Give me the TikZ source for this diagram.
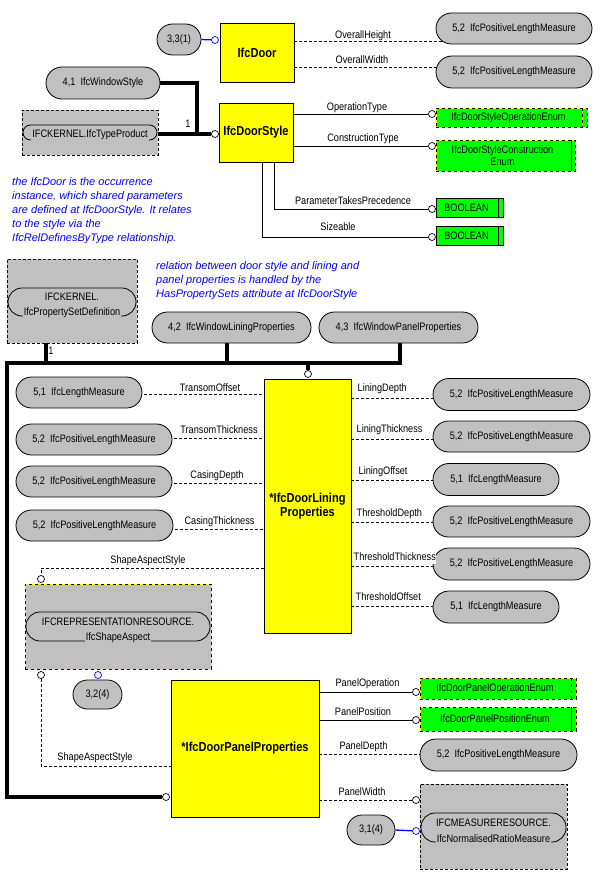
\documentclass[tikz,border=0pt]{standalone}
\usepackage{fontspec}
\setmainfont{Liberation Sans}
\newfontfamily\narrowfam[FakeStretch=0.85]{Liberation Sans}
\pgfdeclarelayer{paper}
\pgfdeclarelayer{wires}
\pgfsetlayers{paper,wires,main}
\definecolor{ifcgray}{RGB}{192,192,192}
\definecolor{ifcyellow}{RGB}{255,255,0}
\definecolor{ifcgreen}{RGB}{0,255,0}
\definecolor{ifcblue}{RGB}{0,0,255}
\newcommand\lblfont{\narrowfam\fontsize{10.8}{12.5}\selectfont}
\newcommand\boxfont{\narrowfam\fontsize{13}{14}\selectfont\bfseries}
\newcommand\notefont{\fontsize{11}{14}\selectfont\itshape\color{ifcblue}}
\begin{document}
\begin{tikzpicture}[x=1pt,y=-1pt,
  lab/.style={font=\lblfont, inner sep=0.5pt, text height=8pt, text depth=2.5pt},
  ybox/.style={draw, line width=0.8pt, fill=ifcyellow, font=\boxfont, align=center, inner sep=0pt},
  meas/.style={draw, line width=0.8pt, fill=ifcgray, rounded corners=15.5pt, font=\lblfont, inner sep=0pt, minimum height=31pt},
  gbox/.style={draw, fill=ifcgray, dash pattern=on 3pt off 2pt, line width=0.8pt, inner sep=0pt},
  ybbox/.style={fill=ifcgray, draw=ifcyellow, line width=0.8pt, inner sep=0pt, postaction={draw=black, dash pattern=on 3pt off 3pt, line width=0.8pt}},
  ovl/.style={draw, line width=0.8pt, inner sep=0pt, rounded corners=14pt},
  ovtext/.style={font=\lblfont, inner sep=1pt, fill=ifcgray},
  enumbox/.style={fill=ifcgreen, draw=ifcyellow, line width=0.8pt, inner sep=0pt, font=\lblfont, align=center, postaction={draw=black, dash pattern=on 3pt off 3pt}},
  boolbox/.style={fill=ifcgreen, draw, line width=0.8pt, inner sep=0pt, font=\lblfont},
  oc/.style={circle, draw, fill=white, minimum size=7pt, inner sep=0pt, line width=0.7pt},
  boc/.style={oc, draw=ifcblue},
  conn/.style={line width=0.8pt},
  dconn/.style={line width=0.8pt, dash pattern=on 3pt off 2pt},
  bconn/.style={line width=1.3pt, draw=ifcblue},
  bus/.style={line width=3.8pt},
  note/.style={font=\notefont, inner sep=0pt, anchor=base west},
  ysep/.style={draw=ifcyellow, line width=0.8pt},
  ksep/.style={draw=black, line width=0.8pt, dash pattern=on 3pt off 3pt},
]
\begin{pgfonlayer}{paper}
\fill[white] (0,0) rectangle (600,888);
\end{pgfonlayer}
\useasboundingbox (0,0) rectangle (600,888);

% ---------- top part ----------
\node[ybox, minimum width=74pt, minimum height=59pt] (door) at (257,52.5) {IfcDoor};
\node[meas, minimum width=44pt] (c331) at (179,39.5) {3,3(1)};
\node[boc] (o331) at (215,40) {};
\node[ybox, minimum width=74pt, minimum height=59pt] (ds) at (256,132.5) {IfcDoorStyle};
\node[meas, minimum width=114pt, minimum height=32pt, rounded corners=16pt] (wstyle) at (103,83) {4,1\ \ IfcWindowStyle};
\node[gbox, minimum width=136pt, minimum height=45pt] (tp) at (90,132.5) {};
\node[ovl, minimum width=134pt, minimum height=15pt, rounded corners=7.5pt] (tpin) at (90,132.5) {};
\node[ovtext] (tptxt) at (90,135) {IFCKERNEL.IfcTypeProduct};
\node[oc] (ods) at (215,134) {};
\coordinate (j1) at (197,134);
\node[lab] (one1) at (188,125) {1};

\node[meas, minimum width=156pt] (h1) at (514,28.5) {5,2\ \ IfcPositiveLengthMeasure};
\node[meas, minimum width=156pt, minimum height=32pt, rounded corners=16pt] (h2) at (514,72) {5,2\ \ IfcPositiveLengthMeasure};
\node[lab] (lOH) at (363,36) {OverallHeight};
\node[lab] (lOW) at (362,61) {OverallWidth};

\node[enumbox, minimum width=151pt, minimum height=19pt] (opt) at (511.5,117.5) {IfcDoorStyleOperationEnum\hspace*{6pt}};
\draw[ysep] ([xshift=-5pt]opt.north east) -- ([xshift=-5pt]opt.south east);
\draw[ksep] ([xshift=-5pt]opt.north east) -- ([xshift=-5pt]opt.south east);
\node[enumbox, minimum width=139pt, minimum height=31pt] (cst) at (505.5,155.5) {IfcDoorStyleConstruction\hspace*{6pt}\\Enum\hspace*{6pt}};
\draw[conn] ([xshift=-4pt]cst.north east) -- ([xshift=-4pt]cst.south east);
\node[oc] (oOT) at (432,114) {};
\node[oc] (oCT) at (432,146) {};
\node[lab] (lOT) at (357,108) {OperationType};
\node[lab] (lCT) at (363,139) {ConstructionType};

\node[boolbox, minimum width=67pt, minimum height=19pt] (b1) at (469.5,207.5) {BOOLEAN\hspace*{6pt}};
\draw[conn] ([xshift=-5pt]b1.north east) -- ([xshift=-5pt]b1.south east);
\node[boolbox, minimum width=67pt, minimum height=19pt] (b2) at (469.5,235.5) {BOOLEAN\hspace*{6pt}};
\draw[conn] ([xshift=-5pt]b2.north east) -- ([xshift=-5pt]b2.south east);
\node[oc] (oB1) at (432,209) {};
\node[oc] (oB2) at (432,237) {};
\node[lab] (lPTP) at (353,202) {ParameterTakesPrecedence};
\node[lab] (lSz) at (338,228) {Sizeable};

% ---------- notes ----------
\node[note] (n1a) at (12,185) {the IfcDoor is the occurrence};
\node[note] (n1b) at (12,199) {instance, which shared parameters};
\node[note] (n1c) at (12,213) {are defined at IfcDoorStyle. It relates};
\node[note] (n1d) at (12,227) {to the style via the};
\node[note] (n1e) at (12,241) {IfcRelDefinesByType relationship.};
\node[note] (n2a) at (156,269) {relation between door style and lining and};
\node[note] (n2b) at (156,283) {panel properties is handled by the};
\node[note] (n2c) at (156,297) {HasPropertySets attribute at IfcDoorStyle};

% ---------- property set level ----------
\node[gbox, minimum width=130pt, minimum height=84pt] (ps) at (72,301) {};
\node[ovl, minimum width=128pt, minimum height=28pt] (psin) at (72,302) {};
\node[ovtext] (pst1) at (72,297) {IFCKERNEL.};
\node[ovtext] (pst2) at (72,313) {IfcPropertySetDefinition};
\node[lab] (one2) at (51,352) {1};
\node[meas, minimum width=159pt] (wlin) at (231.5,327.5) {4,2\ \ IfcWindowLiningProperties};
\node[meas, minimum width=159pt] (wpan) at (398.5,327.5) {4,3\ \ IfcWindowPanelProperties};
\coordinate (busL) at (7,363);
\coordinate (busR) at (400,363);
\node[oc] (oLin) at (308,374) {};

% ---------- lining properties ----------
\node[ybox, minimum width=87pt, minimum height=254pt] (lin) at (307.5,506) {*IfcDoorLining\\Properties};
\node[meas, minimum width=126pt] (m1) at (79,392.5) {5,1\ \ IfcLengthMeasure};
\node[meas, minimum width=156pt] (m2) at (94,439.5) {5,2\ \ IfcPositiveLengthMeasure};
\node[meas, minimum width=156pt] (m3) at (94,481.5) {5,2\ \ IfcPositiveLengthMeasure};
\node[meas, minimum width=157pt] (m4) at (94.5,525.5) {5,2\ \ IfcPositiveLengthMeasure};
\node[lab] (lTO) at (210,389) {TransomOffset};
\node[lab] (lTT) at (219,431) {TransomThickness};
\node[lab] (lCD) at (217,476) {CasingDepth};
\node[lab] (lCTh) at (219.5,522) {CasingThickness};

\node[meas, minimum width=157pt, minimum height=32pt, rounded corners=16pt] (r1) at (511.5,394.5) {5,2\ \ IfcPositiveLengthMeasure};
\node[meas, minimum width=157pt] (r2) at (511.5,436.5) {5,2\ \ IfcPositiveLengthMeasure};
\node[meas, minimum width=126pt, minimum height=32pt, rounded corners=16pt] (r3) at (496,479.5) {5,1\ \ IfcLengthMeasure};
\node[meas, minimum width=157pt] (r4) at (511.5,521.5) {5,2\ \ IfcPositiveLengthMeasure};
\node[meas, minimum width=157pt, minimum height=32pt, rounded corners=16pt] (r5) at (511.5,564) {5,2\ \ IfcPositiveLengthMeasure};
\node[meas, minimum width=126pt, minimum height=32pt, rounded corners=16pt] (r6) at (496,607) {5,1\ \ IfcLengthMeasure};
\node[lab, anchor=west] (lLD) at (357,389) {LiningDepth};
\node[lab, anchor=west] (lLT) at (356,430) {LiningThickness};
\node[lab, anchor=west] (lLO) at (358,472) {LiningOffset};
\node[lab, anchor=west] (lThD) at (356,514) {ThresholdDepth};
\node[lab, anchor=west, fill=white] (lThT) at (353,558) {ThresholdThickness};
\node[lab, anchor=west] (lThO) at (355,598) {ThresholdOffset};

% ---------- shape aspect ----------
\node[lab] (lSA1) at (148,561) {ShapeAspectStyle};
\node[oc] (oSA1) at (41,579) {};
\node[ybbox, minimum width=186pt, minimum height=85pt] (sa) at (118,626.5) {};
\node[ovl, minimum width=184pt, minimum height=29pt] (sain) at (118,626.5) {};
\node[ovtext] (sat1) at (118,622) {IFCREPRESENTATIONRESOURCE.};
\node[ovtext] (sat2) at (118,638) {IfcShapeAspect};
\node[oc] (oSA2) at (41,675) {};
\node[boc] (oSA3) at (98,675) {};
\node[meas, minimum width=49pt, minimum height=29pt, rounded corners=14.5pt] (c324) at (97.5,694.5) {3,2(4)};
\node[lab] (lSA2) at (95,758) {ShapeAspectStyle};

% ---------- panel properties ----------
\node[ybox, minimum width=148pt, minimum height=137pt] (pan) at (245,748.5) {*IfcDoorPanelProperties};
\node[oc] (oPL) at (166,797) {};
\node[enumbox, minimum width=156pt, minimum height=21pt] (e1) at (498,688.5) {IfcDoorPanelOperationEnum\hspace*{6pt}};
\draw[ysep] ([xshift=-5pt]e1.north east) -- ([xshift=-5pt]e1.south east);
\draw[ksep] ([xshift=-5pt]e1.north east) -- ([xshift=-5pt]e1.south east);
\node[enumbox, minimum width=156pt, minimum height=24pt] (e2) at (498,719) {IfcDoorPanelPositionEnum\hspace*{6pt}};
\draw[conn] ([xshift=-5pt]e2.north east) -- ([xshift=-5pt]e2.south east);
\node[oc] (oE1) at (416,692) {};
\node[oc] (oE2) at (416,720) {};
\node[meas, minimum width=157pt, minimum height=32pt, rounded corners=16pt] (pd) at (498.5,755) {5,2\ \ IfcPositiveLengthMeasure};
\node[oc] (oPW) at (416,800) {};
\node[gbox, minimum width=147pt, minimum height=85pt] (nr) at (493.5,826.5) {};
\node[ovl, minimum width=145pt, minimum height=29pt] (nrin) at (493.5,827.5) {};
\node[ovtext] (nrt1) at (493.5,823) {IFCMEASURERESOURCE.};
\node[ovtext] (nrt2) at (493.5,839) {IfcNormalisedRatioMeasure};
\node[meas, minimum width=48pt, minimum height=30pt, rounded corners=15pt] (c314) at (371,830) {3,1(4)};
\node[boc] (o314) at (416,831) {};
\node[lab] (lPO) at (367.5,684) {PanelOperation};
\node[lab] (lPP) at (363,713) {PanelPosition};
\node[lab] (lPD) at (363.5,747) {PanelDepth};
\node[lab] (lPW) at (362,793) {PanelWidth};

% ---------- connectors ----------
\begin{pgfonlayer}{wires}
\draw[bconn] (c331.east) -- (o331);
\draw[dconn] (door.east |- 0,41) -- (h1.center |- 0,41);
\draw[dconn] (door.east |- 0,67) -- (h2.center |- 0,67);
\draw[bus] (wstyle.east) -| (j1);
\draw[bus] (tp.east |- ods) -- (ods);
\draw[conn] (ds.east |- oOT) -- (oOT);
\draw[conn] (ds.east |- oCT) -- (oCT);
\draw[conn] (ds.south -| 274,0) |- (oB1);
\draw[conn] (ds.south -| 262,0) |- (oB2);

\draw[bus] (ps.south -| 46,0) |- (busL);
\draw[bus] (wlin.south -| 227,0) |- (busL);
\draw[bus] (oPL) -| (busL) -- (busR) -- (wpan.south -| busR);
\draw[bus] (oLin |- busL) -- (oLin);

\draw[dconn] (m1.center |- 0,394) -- (lin.west |- 0,394);
\draw[dconn] (m2.center |- 0,438) -- (lin.west |- 0,438);
\draw[dconn] (m3.center |- 0,483) -- (lin.west |- 0,483);
\draw[dconn] (m4.center |- 0,529) -- (lin.west |- 0,529);
\draw[dconn] (lin.east |- 0,398) -- (r1.center |- 0,398);
\draw[dconn] (lin.east |- 0,439) -- (r2.center |- 0,439);
\draw[dconn] (lin.east |- 0,480) -- (r3.center |- 0,480);
\draw[dconn] (lin.east |- 0,522) -- (r4.center |- 0,522);
\draw[dconn] (lin.east |- 0,566) -- (r5.center |- 0,566);
\draw[dconn] (lin.east |- 0,606) -- (r6.center |- 0,606);

\draw[dconn] (lin.west |- 0,568) -| (oSA1);
\draw[dconn] (oSA2) |- (pan.west |- 0,766);

\draw[conn] (pan.east |- oE1) -- (oE1);
\draw[conn] (pan.east |- oE2) -- (oE2);
\draw[dconn] (pan.east |- 0,754) -- (pd.center |- 0,754);
\draw[dconn] (pan.east |- oPW) -- (oPW);
\draw[bconn] (c314.east) -- (o314);
\end{pgfonlayer}
\end{tikzpicture}
\end{document}
